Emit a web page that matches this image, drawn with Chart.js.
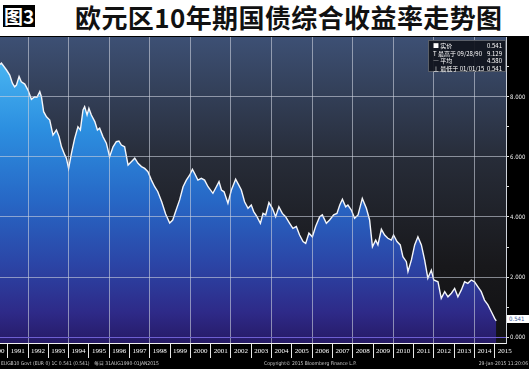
<!DOCTYPE html>
<html lang="zh">
<head>
<meta charset="utf-8">
<title>欧元区10年期国债综合收益率走势图</title>
<script src="https://cdn.jsdelivr.net/npm/chart.js@4.4.0/dist/chart.umd.min.js"></script>
<style>
    html, body { margin: 0; padding: 0; background: #fff; }
    #wrap { position: relative; width: 529px; height: 369px; overflow: hidden; }
    #badge { position: absolute; left: 3px; top: 5px; height: 22px; padding: 0 1px; background: #000; color: #fff;
        font: bold 19px/22px "Noto Sans CJK SC", sans-serif; }
    #title { position: absolute; left: 75px; top: 0; color: #111; white-space: nowrap; letter-spacing: 0.4px;
        font: bold 26px/34px "Noto Sans CJK SC", sans-serif; }
    #box { position: absolute; left: 0; top: 36px; width: 529px; height: 333px; }
    #legend { position: absolute; left: 428px; top: 40px; width: 78px; height: 32px; background: rgba(16, 20, 28, 0.92);
        border: 1px solid #5a5f68; box-sizing: border-box; color: #fff; padding-top: 1px;
        font: 6px/7.5px "Noto Sans CJK SC", sans-serif; }
    #legend .row { position: relative; height: 7.5px; padding-left: 4px; white-space: nowrap; }
    #legend .v { position: absolute; right: 3px; top: 0; }
    #tag { position: absolute; left: 507px; top: 315px; width: 22px; height: 8px; background: #fff; color: #3a5a9a;
        font: 6px/8px "DejaVu Sans Condensed", sans-serif; padding-left: 2px; box-sizing: border-box; }
    .foot { position: absolute; top: 359px; color: #c8c8c8; white-space: nowrap;
        font: 5px/8px "DejaVu Sans Condensed", sans-serif; }
</style>
</head>
<body>
<div id="wrap">
    <div id="badge">图3</div>
    <div id="title">欧元区10年期国债综合收益率走势图</div>
    <div id="box"><canvas id="chart" width="529" height="333"></canvas></div>
    <div id="legend">
        <div class="row">■ 实价<span class="v">0.541</span></div>
        <div class="row">T 最高于 09/28/90 <span class="v">9.129</span></div>
        <div class="row">— 平均<span class="v">4.580</span></div>
        <div class="row">⊥ 最低于 01/01/15 <span class="v">0.541</span></div>
    </div>
    <div id="tag">0.541</div>
    <div class="foot" style="left:1px">EUGB10 Govt (EUR 0) 1C 0.541 (0.541)&nbsp;&nbsp; 每日 31AUG1990-01JAN2015</div>
    <div class="foot" style="left:264px">Copyright© 2015 Bloomberg Finance L.P.</div>
    <div class="foot" style="right:1px">29-Jan-2015 11:20:06</div>
</div>

<script>
// decimal years and yields (%)
let dates = [1990.62, 1990.69, 1990.94, 1991.10, 1991.23, 1991.34, 1991.43, 1991.56, 1991.67, 1991.84, 1992.00,
    1992.17, 1992.33, 1992.44, 1992.58, 1992.66, 1992.77, 1992.91, 1993.07, 1993.23, 1993.40,
    1993.53, 1993.65, 1993.81, 1993.89, 1994.00, 1994.14, 1994.30, 1994.46, 1994.58, 1994.71,
    1994.79, 1994.91, 1995.00, 1995.12, 1995.29, 1995.42, 1995.53, 1995.69, 1995.86, 1996.02,
    1996.19, 1996.35, 1996.48, 1996.60, 1996.76, 1996.93, 1997.09, 1997.26, 1997.42, 1997.59,
    1997.75, 1997.91, 1998.08, 1998.24, 1998.39, 1998.59, 1998.78, 1998.98, 1999.13, 1999.28,
    1999.47, 1999.64, 1999.80, 1999.97, 2000.10, 2000.21, 2000.37, 2000.54, 2000.70, 2000.87,
    2001.11, 2001.28, 2001.41, 2001.53, 2001.66, 2001.85, 2002.02, 2002.23, 2002.34, 2002.51,
    2002.67, 2002.84, 2003.00, 2003.12, 2003.28, 2003.45, 2003.58, 2003.71, 2003.87, 2004.04,
    2004.20, 2004.36, 2004.53, 2004.69, 2004.89, 2005.05, 2005.22, 2005.38, 2005.55, 2005.68,
    2005.84, 2006.01, 2006.17, 2006.37, 2006.50, 2006.70, 2006.86, 2007.06, 2007.22, 2007.36,
    2007.49, 2007.65, 2007.76, 2007.93, 2008.09, 2008.26, 2008.47, 2008.67, 2008.83, 2008.97,
    2009.13, 2009.24, 2009.41, 2009.57, 2009.73, 2009.90, 2010.01, 2010.18, 2010.34, 2010.47,
    2010.64, 2010.72, 2010.89, 2011.05, 2011.21, 2011.38, 2011.54, 2011.70, 2011.87, 2011.99,
    2012.20, 2012.36, 2012.53, 2012.69, 2012.86, 2013.02, 2013.18, 2013.35, 2013.51, 2013.67,
    2013.84, 2014.00, 2014.16, 2014.33, 2014.49, 2014.66, 2014.83, 2014.99, 2015.07];

let yields = [9.08, 9.13, 8.90, 8.73, 8.46, 8.34, 8.40, 8.68, 8.51, 8.43, 8.23,
    7.92, 8.01, 7.99, 8.18, 8.01, 7.51, 7.34, 7.23, 6.73, 6.90,
    6.68, 6.34, 6.07, 5.96, 5.62, 6.12, 6.62, 7.01, 6.90, 7.57,
    7.68, 7.40, 7.62, 7.40, 7.18, 6.90, 6.96, 6.68, 6.46, 6.01,
    6.34, 6.51, 6.53, 6.40, 6.34, 5.73, 5.84, 5.96, 5.79, 5.68,
    5.62, 5.51, 5.23, 5.01, 4.85, 4.50, 4.10, 3.80, 3.90, 4.20,
    4.57, 5.01, 5.23, 5.40, 5.59, 5.45, 5.23, 5.29, 5.23, 5.01,
    4.79, 5.01, 5.18, 4.90, 4.84, 4.46, 4.90, 5.26, 5.12, 4.90,
    4.51, 4.29, 4.40, 4.18, 4.01, 3.79, 4.12, 4.07, 4.48, 4.29,
    4.01, 4.34, 4.12, 4.01, 3.79, 3.62, 3.68, 3.40, 3.18, 3.12,
    3.46, 3.34, 3.68, 4.01, 4.07, 3.79, 3.90, 4.07, 4.12, 4.40,
    4.59, 4.34, 4.40, 4.23, 3.96, 4.07, 4.62, 4.29, 3.90, 3.01,
    3.23, 3.07, 3.59, 3.40, 3.29, 3.23, 3.40, 3.18, 3.07, 2.68,
    2.51, 2.18, 2.57, 3.07, 3.34, 3.07, 2.57, 1.96, 2.23, 1.90,
    1.84, 1.29, 1.51, 1.34, 1.46, 1.62, 1.34, 1.57, 1.84, 1.79,
    1.90, 1.84, 1.68, 1.51, 1.23, 1.07, 0.84, 0.62, 0.54];

let years = [1990, 1991, 1992, 1993, 1994, 1995, 1996, 1997, 1998, 1999, 2000, 2001, 2002,
    2003, 2004, 2005, 2006, 2007, 2008, 2009, 2010, 2011, 2012, 2013, 2014, 2015];
let yTicks = [0, 1, 2, 3, 4, 5, 6, 7, 8, 9];

let gridGray = 'rgba(205, 210, 222, 0.6)';
let clear = 'rgba(0, 0, 0, 0)';

// black panel + dark slate plot background
let panelBg = {
    id: 'panelBg',
    beforeDraw(chart) {
        let { ctx, chartArea: a, width, height } = chart;
        ctx.save();
        ctx.fillStyle = '#000';
        ctx.fillRect(0, 0, width, height);
        let g = ctx.createLinearGradient(0, a.top, 0, a.bottom);
        g.addColorStop(0, '#3d5074');
        g.addColorStop(0.4, '#272c38');
        g.addColorStop(0.75, '#18181b');
        g.addColorStop(1, '#111113');
        ctx.fillStyle = g;
        ctx.fillRect(a.left, a.top, a.right - a.left, a.bottom - a.top);
        ctx.restore();
    }
};

let chart = new Chart(document.getElementById('chart'), {
    type: 'line',
    data: {
        datasets: [{
            data: dates.map((d, i) => ({ x: d, y: yields[i] })),
            borderColor: '#f4f6fa',
            borderWidth: 1.4,
            pointRadius: 0,
            tension: 0,
            fill: 'start',
            backgroundColor: c => {
                let a = c.chart.chartArea;
                if (!a) return '#2a6ad0';
                let g = c.chart.ctx.createLinearGradient(0, a.top, 0, a.bottom);
                g.addColorStop(0.05, '#4cbaf4');
                g.addColorStop(0.3, '#2c8fe0');
                g.addColorStop(0.53, '#2768c6');
                g.addColorStop(0.73, '#2b47a8');
                g.addColorStop(0.9, '#2e2a88');
                g.addColorStop(1, '#261a66');
                return g;
            }
        }]
    },
    options: {
        responsive: false,
        animation: false,
        devicePixelRatio: 1,
        layout: { padding: { top: 1, bottom: 11, left: 0, right: 0 } },
        plugins: { legend: { display: false }, tooltip: { enabled: false } },
        scales: {
            x: {
                type: 'linear',
                min: 1990.62,
                max: 2015.55,
                afterBuildTicks: s => { s.ticks = years.map(v => ({ value: v })); },
                afterFit: s => { s.height = 15; s.paddingLeft = 0; s.paddingRight = 0; },
                grid: {
                    z: 1,
                    color: c => (c.tick && c.tick.value % 2 === 0) ? gridGray : clear,
                    borderDash: [1, 2],
                    tickColor: '#e8e8e8',
                    tickBorderDash: [],
                    tickLength: 15
                },
                border: { z: 1, color: '#f0f0f0', width: 1 },
                ticks: {
                    autoSkip: false,
                    maxRotation: 0,
                    minRotation: 0,
                    padding: -11,
                    labelOffset: 10,
                    color: '#fff',
                    font: { family: 'Liberation Sans Narrow', size: 7 },
                    callback: v => String(v)
                }
            },
            y: {
                position: 'right',
                min: -0.2,
                max: 10,
                afterBuildTicks: s => { s.ticks = yTicks.map(v => ({ value: v })); },
                afterFit: s => { s.width = 23; s.paddingTop = 0; s.paddingBottom = 0; },
                grid: {
                    z: 1,
                    color: c => {
                        let v = c.tick ? c.tick.value : 1;
                        if (v === 0) return '#6e5fd2';
                        return v % 2 === 0 ? gridGray : clear;
                    },
                    borderDash: [1, 2],
                    tickColor: '#dcdcdc',
                    tickBorderDash: [],
                    tickLength: 3
                },
                border: { z: 1, color: '#cfd3da' },
                ticks: {
                    padding: 1,
                    color: '#eee',
                    font: { family: 'DejaVu Sans Condensed', size: 6 },
                    callback: v => v % 2 === 0 ? v.toFixed(3) : ''
                }
            }
        }
    },
    plugins: [panelBg]
});
</script>
</body>
</html>
